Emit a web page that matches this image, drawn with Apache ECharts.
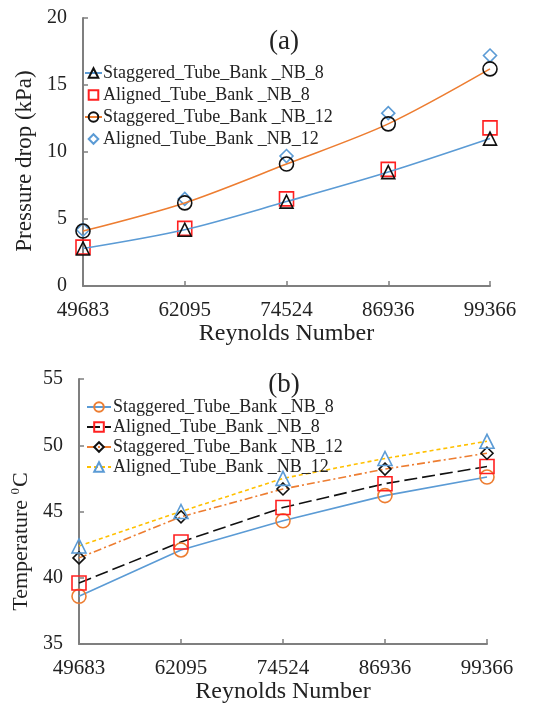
<!DOCTYPE html>
<html>
<head>
<meta charset="utf-8">
<script src="https://cdn.jsdelivr.net/npm/echarts@6/dist/echarts.min.js"></script>
<style>
  html, body { margin: 0; padding: 0; background: #fff; }
  #chart { width: 544px; height: 705px; }
</style>
</head>
<body>
<div id="chart"></div>
<script>
// Reynolds numbers shared by both panels
const reynolds = ['49683', '62095', '74524', '86936', '99366'];

// Panel (a): pressure drop, kPa
const dpStaggered8 = [2.8, 4.2, 6.3, 8.5, 11.0];
const dpAligned8 = [2.9, 4.3, 6.5, 8.7, 11.8];
const dpStaggered12 = [4.1, 6.2, 9.1, 12.1, 16.2];
const dpAligned12 = [4.2, 6.5, 9.7, 12.9, 17.2];

// Panel (b): temperature, °C
const tStaggered8 = [38.6, 42.1, 44.3, 46.2, 47.6];
const tAligned8 = [39.6, 42.7, 45.3, 47.1, 48.4];
const tStaggered12 = [41.5, 44.6, 46.7, 48.2, 49.4];
const tAligned12 = [42.4, 45.0, 47.5, 49.0, 50.3];

const seriesNames = [
  'Staggered_Tube_Bank _NB_8',
  'Aligned_Tube_Bank _NB_8',
  'Staggered_Tube_Bank _NB_12',
  'Aligned_Tube_Bank _NB_12'
];
// each panel keeps its own legend, so series ids get a panel prefix
const keyA = n => 'a:' + n;
const keyB = n => 'b:' + n;
const stripKey = n => n.slice(2);

const FONT = '"Liberation Serif", "Times New Roman", serif';
const AXIS_GRAY = '#7f7f7f';
const BLUE = '#5b9bd5';
const ORANGE = '#ed7d31';
const RED = '#ff2020';
const YELLOW = '#ffc000';

function xAxisFor(gridIndex) {
  return {
    gridIndex,
    type: 'category',
    data: reynolds,
    boundaryGap: false,
    name: 'Reynolds Number',
    nameLocation: 'middle',
    nameGap: 36,
    nameTextStyle: { fontFamily: FONT, fontSize: 24, color: '#222' },
    axisLine: { lineStyle: { color: AXIS_GRAY, width: 2 } },
    axisTick: { inside: true, length: 5, alignWithLabel: true, lineStyle: { color: AXIS_GRAY, width: 1.5 } },
    axisLabel: { fontFamily: FONT, fontSize: 21, color: '#222', margin: 14, showMaxLabel: true },
    splitLine: { show: false }
  };
}

function yAxisFor(gridIndex, min, max, name, nameGap, shift, nameSize) {
  return {
    gridIndex,
    type: 'value',
    min, max, interval: 5,
    name,
    nameLocation: 'middle',
    nameGap,
    nameTextStyle: {
      fontFamily: FONT, fontSize: nameSize, color: '#222',
      padding: [0, shift, 0, 0],
      rich: {
        t: { fontFamily: FONT, fontSize: nameSize, color: '#222' },
        s: { fontFamily: FONT, fontSize: 13, color: '#222', padding: [0, 1, 11, 0] }
      }
    },
    axisLine: { show: true, lineStyle: { color: AXIS_GRAY, width: 2 } },
    axisTick: { show: true, inside: true, length: 5, lineStyle: { color: AXIS_GRAY, width: 1.5 } },
    axisLabel: { fontFamily: FONT, fontSize: 20, color: '#222', margin: 16 },
    splitLine: { show: false }
  };
}

function lineSeries(idx, name, data, opt) {
  return {
    name,
    type: 'line',
    xAxisIndex: idx,
    yAxisIndex: idx,
    data,
    symbol: opt.symbol,
    symbolSize: opt.size,
    smooth: opt.smooth || false,
    showAllSymbol: true,
    itemStyle: { color: 'rgba(0,0,0,0)', borderColor: opt.mark, borderWidth: 1.6 },
    lineStyle: opt.line
      ? { color: opt.line, width: 1.6, type: opt.dash || 'solid' }
      : { width: 0, opacity: 0 },
    emphasis: { disabled: true },
    z: opt.z || 2
  };
}

const chart = echarts.init(document.getElementById('chart'));

chart.setOption({
  animation: false,
  backgroundColor: '#fff',
  title: [
    { text: '(a)', left: 279, top: 23, textAlign: 'center',
      textStyle: { fontFamily: FONT, fontSize: 27, fontWeight: 'normal', color: '#222' } },
    { text: '(b)', left: 279, top: 366, textAlign: 'center',
      textStyle: { fontFamily: FONT, fontSize: 27, fontWeight: 'normal', color: '#222' } }
  ],
  legend: [
    {
      data: seriesNames.map(keyA),
      formatter: stripKey,
      orient: 'vertical',
      left: 79, top: 59,
      itemGap: 4,
      itemWidth: 17, itemHeight: 12,
      textStyle: { fontFamily: FONT, fontSize: 18, color: '#222', padding: [0, 0, 0, -4] },
      selectedMode: false
    },
    {
      data: seriesNames.map(keyB),
      formatter: stripKey,
      orient: 'vertical',
      left: 81, top: 393,
      itemGap: 2,
      itemWidth: 24, itemHeight: 12,
      textStyle: { fontFamily: FONT, fontSize: 18, color: '#222', padding: [0, 0, 0, -3] },
      selectedMode: false
    }
  ],
  grid: [
    { left: 83, right: 54, top: 18, bottom: 419 },
    { left: 79, right: 57, top: 379, bottom: 57 }
  ],
  xAxis: [xAxisFor(0), xAxisFor(1)],
  yAxis: [
    yAxisFor(0, 0, 20, 'Pressure drop (kPa)', 41, 18, 23),
    yAxisFor(1, 35, 55, '{t|Temperature }{s|0}{t|C}', 36, 60, 22)
  ],
  series: [
    // (a) pressure drop
    lineSeries(0, keyA(seriesNames[0]), dpStaggered8, { symbol: 'triangle', size: 13, mark: '#111', line: BLUE, smooth: 0.3, z: 3 }),
    lineSeries(0, keyA(seriesNames[1]), dpAligned8, { symbol: 'rect', size: 14, mark: RED }),
    lineSeries(0, keyA(seriesNames[2]), dpStaggered12, { symbol: 'circle', size: 14, mark: '#111', line: ORANGE, smooth: 0.3, z: 3 }),
    lineSeries(0, keyA(seriesNames[3]), dpAligned12, { symbol: 'diamond', size: 13, mark: BLUE }),
    // (b) temperature
    lineSeries(1, keyB(seriesNames[0]), tStaggered8, { symbol: 'circle', size: 14, mark: ORANGE, line: BLUE }),
    lineSeries(1, keyB(seriesNames[1]), tAligned8, { symbol: 'rect', size: 14, mark: RED, line: '#111', dash: [13, 5] }),
    lineSeries(1, keyB(seriesNames[2]), tStaggered12, { symbol: 'diamond', size: 12, mark: '#111', line: ORANGE, dash: [8, 3, 2, 3] }),
    lineSeries(1, keyB(seriesNames[3]), tAligned12, { symbol: 'triangle', size: 14, mark: BLUE, line: YELLOW, dash: [4, 3] })
  ]
});
</script>
</body>
</html>
